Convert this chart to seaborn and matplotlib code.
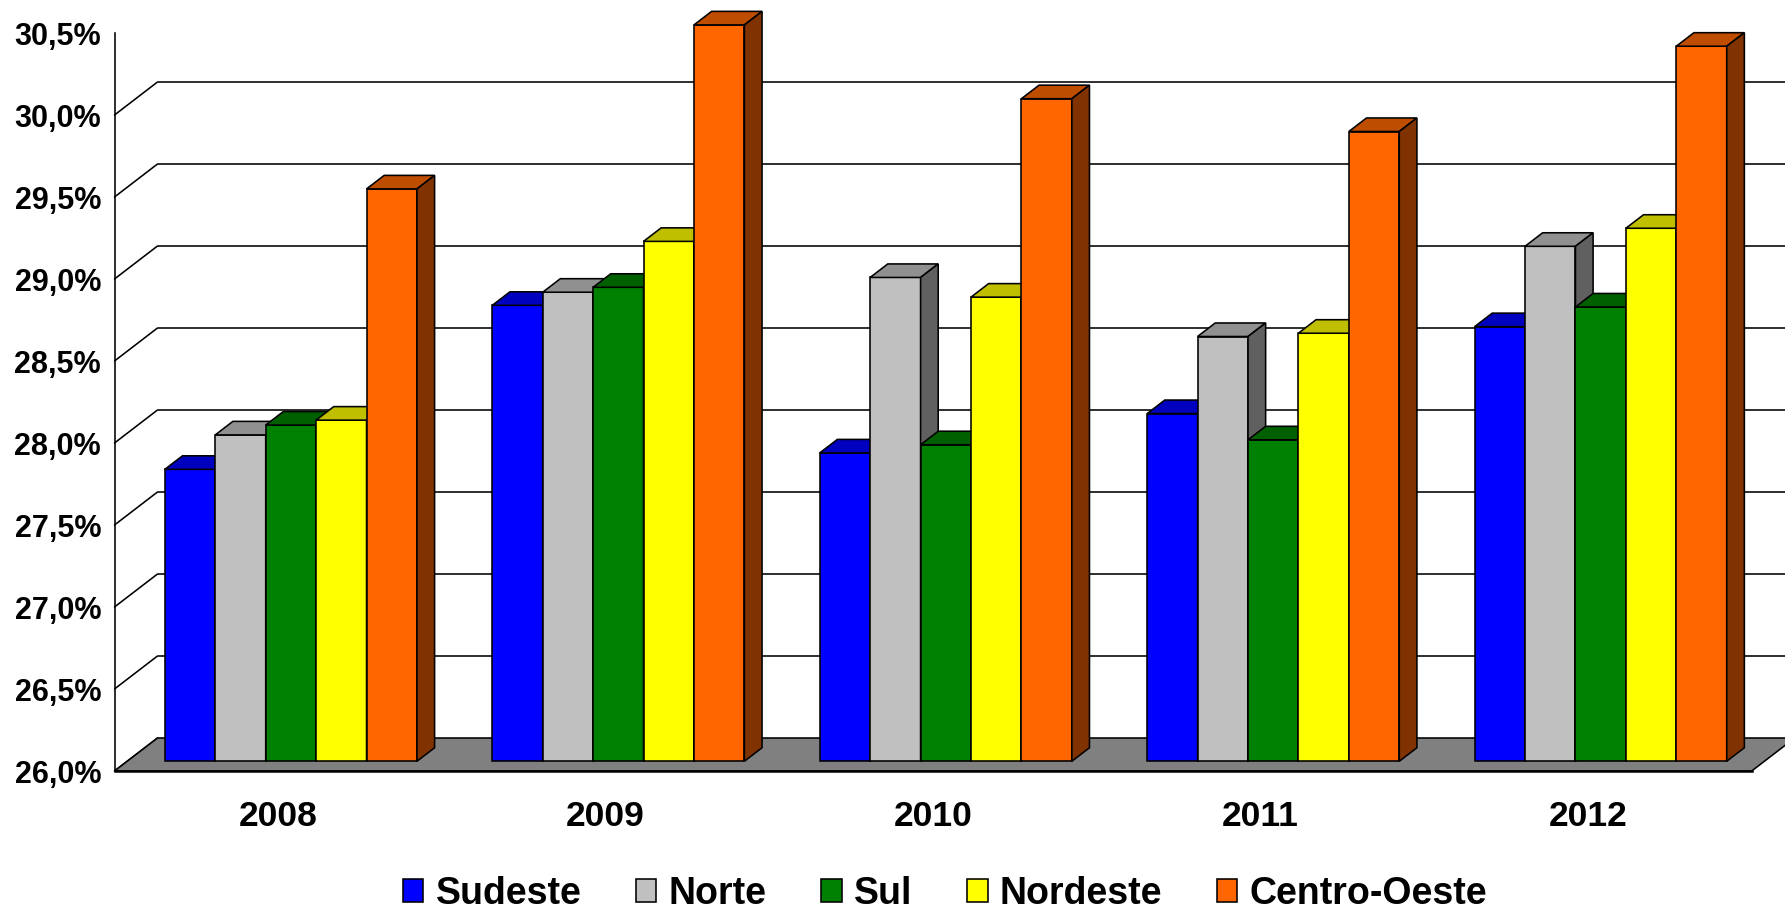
import numpy as np
import pandas as pd
import matplotlib
matplotlib.use("Agg")
import matplotlib.pyplot as plt
from matplotlib.patches import Polygon, Patch
from matplotlib.colors import to_rgb
import seaborn as sns

# ---- data -------------------------------------------------------------
years = ["2008", "2009", "2010", "2011", "2012"]
regions = ["Sudeste", "Norte", "Sul", "Nordeste", "Centro-Oeste"]
sudeste = [27.78, 28.78, 27.88, 28.12, 28.65]
norte = [27.99, 28.86, 28.95, 28.59, 29.14]
sul = [28.05, 28.89, 27.93, 27.96, 28.77]
nordeste = [28.08, 29.17, 28.83, 28.61, 29.25]
centro_oeste = [29.49, 30.49, 30.04, 29.84, 30.36]
colors = ["#0000FF", "#C0C0C0", "#008000", "#FFFF00", "#FF6600"]
y_ticks = [26.0, 26.5, 27.0, 27.5, 28.0, 28.5, 29.0, 29.5, 30.0, 30.5]

series = [sudeste, norte, sul, nordeste, centro_oeste]
rows = []
for reg, vals in zip(regions, series):
    for yr, v in zip(years, vals):
        rows.append({"ano": yr, "regiao": reg, "valor": v})
df = pd.DataFrame(rows)

# ---- style ------------------------------------------------------------
sns.set_style("white")
plt.rcParams["font.family"] = ["Liberation Sans", "DejaVu Sans"]
plt.rcParams["font.weight"] = "bold"
plt.rcParams["text.color"] = "black"
plt.rcParams["xtick.color"] = "black"
plt.rcParams["ytick.color"] = "black"
plt.rcParams["axes.labelcolor"] = "black"

W, H, DPI = 1785, 910, 100
fig = plt.figure(figsize=(W / DPI, H / DPI), dpi=DPI)
fig.patch.set_facecolor("white")

left_px, right_px, top_px, bottom_px = 114.5, 1751.7, 33.0, 771.0
ax = fig.add_axes([left_px / W, 1 - bottom_px / H,
                   (right_px - left_px) / W, (bottom_px - top_px) / H])
ax.set_facecolor("none")

FLOOR, YMAX = y_ticks[0], y_ticks[-1]
XMIN, XMAX = -0.5, len(years) - 0.5
LW = 1.15

sns.barplot(data=df, x="ano", y="valor", hue="regiao", order=years,
            hue_order=regions, palette=colors, width=0.77, saturation=1,
            edgecolor="black", linewidth=LW, errorbar=None, legend=False,
            ax=ax)

ax.set_xlim(XMIN, XMAX)
ax.set_ylim(FLOOR, YMAX)

# oblique depth vector (full depth of the floor) in data units
px_per_x = (right_px - left_px) / (XMAX - XMIN)
px_per_y = (bottom_px - top_px) / (YMAX - FLOOR)
DDX, DDY = 43.0 / px_per_x, 33.0 / px_per_y
F0, F1 = 0.295, 0.705   # front / back depth of the columns

# floor
floor = Polygon([(XMIN, FLOOR), (XMAX, FLOOR), (XMAX + DDX, FLOOR + DDY),
                 (XMIN + DDX, FLOOR + DDY)], closed=True,
                facecolor="#808080", edgecolor="black", linewidth=LW,
                zorder=1, clip_on=False)
ax.add_patch(floor)

# back wall gridlines and side-wall diagonals
for v in y_ticks[1:-1]:
    ax.plot([XMIN + DDX, XMAX + DDX], [v + DDY, v + DDY], color="black",
            lw=LW, zorder=0.5, clip_on=False, solid_capstyle="butt")
for v in y_ticks[:-1]:
    ax.plot([XMIN, XMIN + DDX], [v, v + DDY], color="black", lw=LW,
            zorder=0.5, clip_on=False)

# 3D columns: shift front faces back, add top and side faces
bars = sorted([p for p in ax.patches if p is not floor],
              key=lambda p: p.get_x())
for k, p in enumerate(bars):
    x0, w, top = p.get_x(), p.get_width(), p.get_height()
    base = to_rgb(p.get_facecolor())
    fx, fy = F0 * DDX, F0 * DDY
    bx, by = F1 * DDX, F1 * DDY
    p.set_x(x0 + fx)
    p.set_y(FLOOR + fy)
    p.set_height(top - FLOOR)
    p.set_clip_on(False)
    z = 10 + 3 * k
    p.set_zorder(z)
    top_face = Polygon([(x0 + fx, top + fy), (x0 + w + fx, top + fy),
                        (x0 + w + bx, top + by), (x0 + bx, top + by)],
                       closed=True, facecolor=tuple(c * 0.75 for c in base),
                       edgecolor="black", linewidth=LW, zorder=z + 1,
                       clip_on=False)
    side_face = Polygon([(x0 + w + fx, FLOOR + fy), (x0 + w + fx, top + fy),
                         (x0 + w + bx, top + by), (x0 + w + bx, FLOOR + by)],
                        closed=True, facecolor=tuple(c * 0.5 for c in base),
                        edgecolor="black", linewidth=LW, zorder=z + 2,
                        clip_on=False)
    ax.add_patch(top_face)
    ax.add_patch(side_face)

# axes
for s in ["top", "right"]:
    ax.spines[s].set_visible(False)
ax.spines["left"].set_linewidth(LW)
ax.spines["left"].set_color("black")
ax.spines["bottom"].set_linewidth(1.8)
ax.spines["bottom"].set_color("black")
ax.spines["bottom"].set_zorder(5)

ax.set_yticks(y_ticks)
ax.set_yticklabels([f"{v:.1f}%".replace(".", ",") for v in y_ticks],
                   fontsize=22, fontweight="bold", color="black")
ax.tick_params(axis="y", direction="out", length=7.2, width=LW,
               color="black", pad=2.5)

ax.set_xticks(range(len(years)))
ax.set_xticklabels(years, fontsize=25.5, fontweight="bold", color="black")
ax.set_xticks(np.arange(XMIN, XMAX + 0.01, 1.0), minor=True)
ax.tick_params(axis="x", which="major", length=0, pad=21)
ax.tick_params(axis="x", which="minor", direction="out", length=7.5,
               width=LW, color="black")
ax.set_xlabel("")
ax.set_ylabel("")
ax.grid(False)

handles = [Patch(facecolor=c, edgecolor="black", linewidth=LW, label=r)
           for r, c in zip(regions, colors)]
fig.legend(handles=handles, loc="center", ncol=5,
           bbox_to_anchor=(945 / W, 1 - 894 / H), frameon=False,
           prop={"size": 27, "weight": "bold"}, handlelength=0.55,
           handleheight=0.55, handletextpad=0.33, columnspacing=1.45,
           borderaxespad=0, labelcolor="black")

fig.savefig("out.png", dpi=DPI, facecolor="white")
